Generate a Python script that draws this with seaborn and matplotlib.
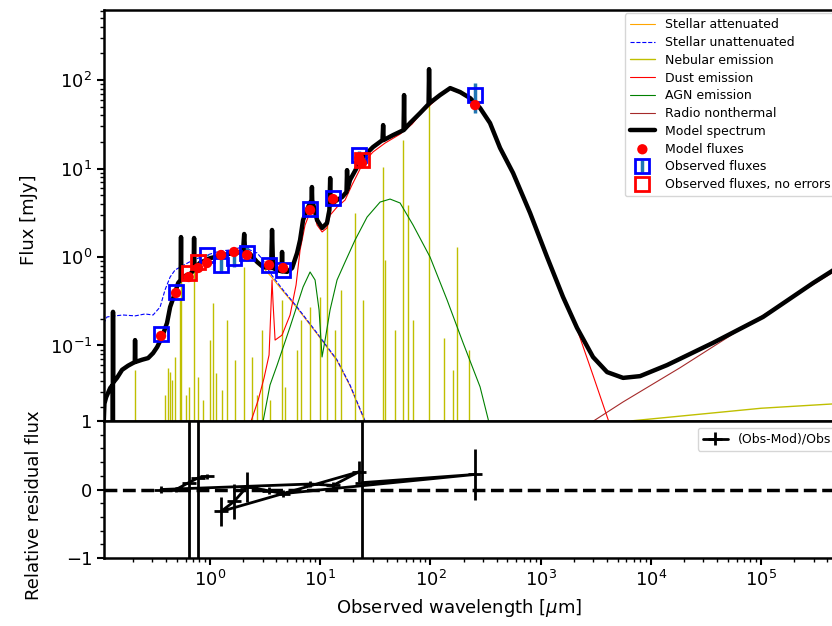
#!/usr/bin/env python3

import seaborn
import matplotlib.pyplot as plt
from matplotlib.ticker import MultipleLocator, FixedLocator, LogLocator, NullFormatter


# Values. Wavelengths in [micron], fluxes in [mJy].

# Total model spectrum (the emission line spikes are kept as points of the spectrum)
model_wl = [0.108, 0.110, 0.114, 0.124, 0.1310, 0.1313, 0.1316, 0.1319, 0.143, 0.159, 0.180,
            0.2075, 0.2086, 0.2097, 0.242, 0.274, 0.304, 0.331, 0.367, 0.407, 0.434, 0.481, 0.513,
            0.540, 0.545, 0.549, 0.593, 0.659, 0.708, 0.716, 0.722, 0.811, 1.00, 1.31, 1.62,
            1.99, 2.04, 2.08, 2.31, 2.67, 3.03, 3.58, 3.65, 3.73, 4.06, 4.45, 4.50, 4.55, 5.00,
            5.55, 6.16, 6.56, 6.98, 7.75, 8.34, 8.40, 8.45, 9.35, 10.4, 11.5, 12.1, 12.3, 12.4,
            14.2, 15.8, 17.3, 17.5, 17.7, 18.6, 21.6, 24.4, 30.1, 36.7, 37.2, 37.6, 45.8,
            57.0, 57.6, 58.1, 65.3, 80.5, 96.1, 97.1, 98.1, 122, 151, 186, 229, 282, 347, 428,
            562, 802, 1143, 1596, 2138, 2986, 4006, 5597, 7980, 14030, 36650, 104200, 296500,
            440600, 1000000]
model_flux = [0.012, 0.022, 0.026, 0.033, 0.036, 0.010, 0.24, 0.038, 0.043, 0.053, 0.059,
              0.065, 0.115, 0.065, 0.069, 0.072, 0.082, 0.096, 0.125, 0.180, 0.272, 0.392, 0.508,
              0.55, 1.68, 0.56, 0.61, 0.64, 0.71, 1.64, 0.75, 0.86, 0.97, 1.05, 1.11,
              1.14, 1.82, 1.14, 1.08, 0.88, 0.77, 0.75, 2.02, 0.75, 0.71, 0.69, 1.14, 0.69, 0.68,
              0.75, 1.11, 1.56, 2.62, 3.67, 4.40, 6.18, 4.40, 2.62, 2.13, 2.42, 3.40, 7.80, 3.87,
              4.41, 4.76, 5.43, 9.60, 5.86, 7.41, 10.4, 13.5, 17.5, 21.0, 31.0, 21.0, 23.9,
              27.2, 67.7, 27.8, 32.7, 42.4, 53.5, 133, 54.9, 67.7, 81.2, 73.2, 62.6, 48.3, 32.7, 17.1,
              8.9, 3.14, 1.0, 0.353, 0.158, 0.074, 0.050, 0.043, 0.045, 0.060, 0.107, 0.210, 0.508,
              0.695, 1.33]

# Stellar emission, attenuated and unattenuated
stellar_att_wl = [0.108, 0.110, 0.114, 0.124, 0.143, 0.159, 0.180, 0.209, 0.242, 0.274, 0.304,
                  0.331, 0.367, 0.407, 0.434, 0.481, 0.513, 0.593, 0.659, 0.811, 1.0, 1.31, 1.62,
                  2.31, 2.67, 3.03, 3.50, 4.60, 6.16, 9.35, 14.2, 18.6, 25.5, 29.5]
stellar_att_flux = [0.012, 0.021, 0.025, 0.032, 0.042, 0.052, 0.058, 0.064, 0.068, 0.071, 0.081,
                    0.095, 0.124, 0.178, 0.27, 0.39, 0.50, 0.60, 0.63, 0.85, 0.96, 1.04, 1.10,
                    1.07, 0.87, 0.76, 0.62, 0.41, 0.265, 0.135, 0.067, 0.035, 0.0137, 0.0085]

stellar_unatt_wl = [0.106, 0.109, 0.116, 0.137, 0.162, 0.209, 0.257, 0.304, 0.352, 0.390, 0.434,
                    0.481, 0.557, 0.701, 0.939, 1.232, 1.518, 1.993, 2.306, 2.670, 3.027, 3.504,
                    4.595, 6.16, 9.35, 14.2, 18.6, 25.5, 29.5]
stellar_unatt_flux = [0.13, 0.180, 0.210, 0.216, 0.221, 0.216, 0.227, 0.221, 0.272, 0.424, 0.594,
                      0.713, 0.791, 0.925, 1.053, 1.169, 1.20, 1.297, 1.20, 1.110, 0.925, 0.660,
                      0.424, 0.272, 0.138, 0.0686, 0.0358, 0.014, 0.0086]

# Nebular emission: continuum plus the individual lines
nebular_wl = [0.1, 1000, 6890, 100000, 440600, 1000000]
nebular_flux = [0.004, 0.006, 0.0141, 0.0195, 0.0218, 0.0232]
nebular_line_wl = [0.2086, 0.3905, 0.4158, 0.4335, 0.4519, 0.4813, 0.5342, 0.5455, 0.6057, 0.6449,
                   0.7158, 0.7781, 0.864, 1.0, 1.065, 1.134, 1.285, 1.427, 1.686, 2.035, 2.405,
                   2.670, 2.964, 3.504, 4.502, 4.794, 6.160, 6.696, 8.08, 9.96, 11.53, 13.62,
                   15.44, 20.69, 24.46, 37.15, 38.73, 47.74, 56.41, 62.63, 69.54, 97.1, 132.9,
                   160.4, 174.3, 224.0]
nebular_line_peak = [0.0529, 0.0276, 0.0557, 0.0502, 0.0408, 0.0741, 0.327, 1.56, 0.0276, 0.034,
                     0.878, 0.0441, 0.0242, 0.1153, 0.302, 0.0489, 0.0314, 0.194, 0.0686, 0.771,
                     0.0741, 0.0276, 0.150, 0.0242, 0.327, 0.034, 0.089, 0.194, 0.272, 0.353, 3.14,
                     0.150, 0.424, 3.14, 0.327, 10.4, 0.925, 0.150, 21.0, 3.87, 0.194, 55.0, 0.1216,
                     0.0529, 1.30, 0.089]
nebular_line_floor = 0.004

# Dust emission
dust_wl = [2.2, 2.31, 2.73, 3.09, 3.43, 3.58, 3.65, 3.73, 3.89, 4.50, 5.32, 6.03, 6.56, 7.28,
           8.08, 8.42, 9.35, 10.4, 11.5, 12.3, 14.2, 16.8, 19.4, 24.4, 30.1, 38.7, 53.0, 68.1,
           80.5, 122, 151, 186, 229, 282, 347, 428, 562, 802, 1143, 1596, 2138, 2986, 4266, 5000]
dust_flux = [0.008, 0.013, 0.024, 0.043, 0.078, 0.30, 0.55, 0.30, 0.115, 0.131, 0.221, 0.483,
             1.20, 2.30, 3.22, 3.87, 2.30, 1.92, 2.13, 2.98, 3.67, 4.41, 6.51, 11.5, 15.4, 19.4,
             24.5, 31.8, 41.0, 66.0, 79.0, 71.0, 61.0, 47.0, 31.8, 16.6, 8.6, 3.06, 0.97, 0.34,
             0.153, 0.046, 0.0125, 0.006]

# AGN emission
agn_wl = [2.8, 2.96, 3.50, 4.06, 5.32, 6.98, 8.08, 8.97, 9.75, 10.38, 11.06, 12.27, 14.20,
          16.79, 20.69, 26.6, 34.9, 43.0, 53.0, 69.5, 99.1, 141.5, 197.7, 282, 347.5, 380]
agn_flux = [0.008, 0.012, 0.0358, 0.060, 0.162, 0.458, 0.677, 0.550, 0.252, 0.0741, 0.115, 0.252,
            0.550, 0.878, 1.557, 2.83, 4.18, 4.52, 4.08, 2.30, 1.0, 0.327, 0.107, 0.034, 0.012,
            0.008]

# Radio nonthermal emission
radio_wl = [2000, 2990, 5600, 18400, 74600, 440600, 1000000]
radio_flux = [0.0103, 0.0139, 0.023, 0.056, 0.17, 0.66, 1.25]

# Fluxes in the filters
model_fluxes_wl = [0.359, 0.491, 0.64, 0.78, 0.939, 1.258, 1.650, 2.166, 3.43, 4.60, 8.08, 13.07,
                   22.6, 23.9, 254]
model_fluxes = [0.128, 0.392, 0.594, 0.751, 0.855, 1.053, 1.139, 1.053, 0.812, 0.751, 3.40, 4.52,
                13.1, 11.5, 52.2]

obs_wl = [0.359, 0.491, 0.939, 1.258, 1.650, 2.166, 3.43, 4.60, 8.08, 13.07, 22.6, 254]
obs_flux = [0.135, 0.402, 1.05, 0.81, 0.97, 1.11, 0.81, 0.71, 3.49, 4.64, 14.2, 67.7]
obs_err = [0.01, 0.02, 0.03, 0.15, 0.20, 0.22, 0.02, 0.03, 0.10, 0.20, 1.5, 25.0]

obs_noerr_wl = [0.64, 0.78, 23.9]
obs_noerr_flux = [0.66, 0.88, 12.5]

# Relative residuals, in the (unsorted) filter order used for the line
residual_wl = [0.939, 0.78, 0.64, 0.491, 0.359, 8.08, 13.07, 22.6, 1.258, 1.650, 2.166, 3.43,
               4.60, 254, 23.9]
residual = [0.19, 0.17, 0.10, 0.0, 0.0, 0.08, 0.06, 0.26, -0.32, -0.175, 0.04, -0.02, -0.06,
            0.22, 0.10]
residual_err = [0.03, 10.0, 10.0, 0.03, 0.05, 0.05, 0.05, 0.15, 0.21, 0.26, 0.22, 0.05, 0.05,
                0.37, 10.0]

wavelength_ticks = [1, 10, 100, 1e3, 1e4, 1e5]

xmin, xmax = 0.109, 6.8e5
ymin, ymax = 0.014, 620


def draw_line(ax, wl, flux, color, lw, label, ls='-'):
    seaborn.lineplot(x=wl, y=flux, ax=ax, color=color, linewidth=lw, linestyle=ls,
                     label=label, estimator=None, errorbar=None, sort=False)


if __name__ == '__main__':
    seaborn.set_style('ticks', {'axes.edgecolor': 'black', 'xtick.color': 'black',
                                'ytick.color': 'black', 'text.color': 'black',
                                'axes.labelcolor': 'black'})
    plt.rcParams['font.family'] = ['DejaVu Sans']

    fig = plt.figure(figsize=(8.32, 6.26), dpi=100)
    # the right edge of the plot lies outside of the picture (cropped figure)
    ax1 = fig.add_axes([0.125, 0.3275, 0.900, 0.6565])
    ax2 = fig.add_axes([0.125, 0.1086, 0.900, 0.2189])

    ax1.set_xscale('log')
    ax1.set_yscale('log')
    ax2.set_xscale('log')

    # SED components
    draw_line(ax1, stellar_att_wl, stellar_att_flux, 'orange', 0.8, 'Stellar attenuated')
    draw_line(ax1, stellar_unatt_wl, stellar_unatt_flux, 'b', 0.8, 'Stellar unattenuated', ls='--')
    draw_line(ax1, nebular_wl, nebular_flux, 'y', 1.0, 'Nebular emission')
    ax1.vlines(nebular_line_wl, nebular_line_floor, nebular_line_peak, color='y', linewidth=1.0)
    draw_line(ax1, dust_wl, dust_flux, 'r', 0.8, 'Dust emission')
    draw_line(ax1, agn_wl, agn_flux, 'g', 0.8, 'AGN emission')
    draw_line(ax1, radio_wl, radio_flux, 'brown', 0.8, 'Radio nonthermal')
    draw_line(ax1, model_wl, model_flux, 'k', 3.2, 'Model spectrum')

    # fluxes in the filters
    seaborn.scatterplot(x=model_fluxes_wl, y=model_fluxes, ax=ax1, color='r', s=55,
                        edgecolor='none', zorder=3, label='Model fluxes')
    ax1.errorbar(obs_wl, obs_flux, yerr=obs_err, ls='', marker='s', markersize=10,
                 markerfacecolor='none', markeredgecolor='b', markeredgewidth=2,
                 ecolor='#1f77b4', elinewidth=2.5, capsize=0, label='Observed fluxes')
    ax1.errorbar(obs_noerr_wl, obs_noerr_flux, ls='', marker='s', markersize=10,
                 markerfacecolor='none', markeredgecolor='r', markeredgewidth=2,
                 capsize=0, label='Observed fluxes, no errors')

    ax1.set_xlim(xmin, xmax)
    ax1.set_ylim(ymin, ymax)
    ax1.tick_params(axis='x', which='both', bottom=False, labelbottom=False)
    ax1.set_ylabel('Flux [mJy]', fontsize=13)
    ax1.yaxis.set_label_coords(-0.088, 0.489)
    ax1.legend(loc='upper left', bbox_to_anchor=(0.6956, 0.992), borderaxespad=0,
               fontsize=9, labelspacing=0.38)

    # residuals
    ax2.errorbar(residual_wl, residual, yerr=residual_err, marker='_', color='k', ls='-',
                 linewidth=2, markersize=10, markeredgewidth=2, capsize=0,
                 label='(Obs-Mod)/Obs')
    ax2.axhline(0, ls='--', color='k', linewidth=2.5)
    ax2.set_xlim(xmin, xmax)
    ax2.set_ylim(-1.0, 1.0)
    ax2.xaxis.set_major_locator(FixedLocator(wavelength_ticks))
    ax2.xaxis.set_minor_locator(LogLocator(base=10, subs=range(2, 10), numticks=20))
    ax2.xaxis.set_minor_formatter(NullFormatter())
    ax2.yaxis.set_major_locator(MultipleLocator(1))
    ax2.yaxis.set_minor_locator(MultipleLocator(0.2))
    ax2.set_xlabel(r'Observed wavelength [$\mu$m]', fontsize=13)
    ax2.set_ylabel('Relative residual flux', fontsize=13)
    ax2.xaxis.set_label_coords(0.475, -0.285)
    ax2.yaxis.set_label_coords(-0.082, 0.387)
    ax2.legend(loc='upper left', bbox_to_anchor=(0.793, 0.949), borderaxespad=0, fontsize=9)

    for ax in (ax1, ax2):
        ax.tick_params(which='major', length=5, width=1.5, labelsize=13)
        ax.tick_params(which='minor', length=3, width=1.0)
        ax.tick_params(axis='x', which='both', top=False)
        ax.tick_params(axis='y', which='both', right=False)
        for spine in ax.spines.values():
            spine.set_linewidth(1.8)

    fig.savefig('out.png', dpi=100)
